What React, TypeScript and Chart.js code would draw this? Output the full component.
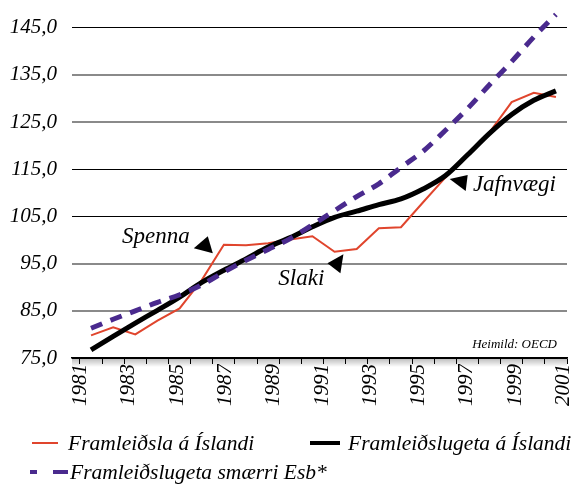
import React, { useEffect, useRef } from "react";
import { Chart, registerables } from "chart.js";

Chart.register(...registerables);

// ---------- data ----------
const years = [1981, 1982, 1983, 1984, 1985, 1986, 1987, 1988, 1989, 1990, 1991, 1992, 1993, 1994, 1995, 1996, 1997, 1998, 1999, 2000, 2001, 2002];
const productionIceland = [79.8, 81.5, 80.0, 82.9, 85.5, 91.5, 99.0, 98.9, 99.3, 100.1, 100.8, 97.5, 98.1, 102.5, 102.7, 108.0, 113.2, 118.0, 122.8, 129.2, 131.2, 130.3];
const capacityIceland = [76.7, 79.6, 82.4, 85.1, 87.9, 91.0, 93.6, 96.0, 98.5, 100.5, 102.8, 104.8, 106.1, 107.5, 108.7, 110.8, 113.6, 118.0, 122.6, 126.6, 129.6, 131.6];
const capacitySmallerEU = [81.3, 83.2, 85.0, 86.8, 88.4, 90.5, 93.2, 95.7, 98.0, 100.3, 103.2, 106.2, 109.2, 111.9, 115.4, 118.8, 123.2, 127.8, 132.9, 137.8, 143.0, 147.8];
const yTickValues = [75, 85, 95, 105, 115, 125, 135, 145];
const xLabelYears = [1981, 1983, 1985, 1987, 1989, 1991, 1993, 1995, 1997, 1999, 2001];
const seriesNames = ["Framleiðsla á Íslandi", "Framleiðslugeta á Íslandi", "Framleiðslugeta smærri Esb*"];
const sourceNote = "Heimild: OECD";

// annotation labels (data coordinates)
const annotationLabels = [
  { text: "Spenna", year: 1983.93, value: 100.6, align: "center" },
  { text: "Slaki", year: 1990.5, value: 91.8, align: "center" },
  { text: "Jafnvægi", year: 1998.25, value: 111.7, align: "left" },
];
const annotationArrows = [
  { year: 1986.5, value: 97.2, shape: [[0, 0], [-5, -17], [-19, -5]] },
  { year: 1992.4, value: 97.0, shape: [[0, 0], [-16, 9], [-3, 19]] },
  { year: 1997.2, value: 112.9, shape: [[0, 0], [18, -4], [16, 12]] },
];

const FONT = '"Liberation Serif", "Times New Roman", serif';
const COLORS = ["#e0452d", "#000000", "#4a2a8e"];

const grayGrid = [85, 95, 125, 135];

const decorPlugin = {
  id: "decor",
  beforeDraw(chart: any) {
    const { ctx, chartArea } = chart;
    const { left, right, bottom } = chartArea;
    const g = ctx.createLinearGradient(0, bottom, 0, bottom + 9);
    g.addColorStop(0, "rgba(0,0,0,0.28)");
    g.addColorStop(1, "rgba(0,0,0,0)");
    ctx.save();
    ctx.fillStyle = g;
    ctx.fillRect(left, bottom, right - left, 9);
    ctx.restore();
  },
  afterDatasetsDraw(chart: any) {
    const { ctx, chartArea } = chart;
    const xs = chart.scales.x;
    const ys = chart.scales.y;
    ctx.save();
    ctx.fillStyle = "#000";
    ctx.font = `italic 23px ${FONT}`;
    ctx.textBaseline = "middle";
    annotationLabels.forEach((a) => {
      ctx.textAlign = a.align;
      ctx.fillText(a.text, xs.getPixelForValue(a.year), ys.getPixelForValue(a.value));
    });
    annotationArrows.forEach((a) => {
      const px = xs.getPixelForValue(a.year);
      const py = ys.getPixelForValue(a.value);
      ctx.beginPath();
      a.shape.forEach(([dx, dy], i) => {
        if (i === 0) ctx.moveTo(px + dx, py + dy);
        else ctx.lineTo(px + dx, py + dy);
      });
      ctx.closePath();
      ctx.fill();
    });
    ctx.font = `italic 13px ${FONT}`;
    ctx.textAlign = "right";
    ctx.fillText(sourceNote, chartArea.right - 10, chartArea.bottom - 13);
    ctx.restore();
  },
};

const legendItems = [
  { lineX: 32, lineW: 26, textX: 68, y: 443, width: 2, dash: "" },
  { lineX: 310, lineW: 30, textX: 348, y: 443, width: 4, dash: "" },
  { lineX: 30, lineW: 38, textX: 70, y: 472, width: 4, dash: "7 16 15" },
];

const tickFont = { family: FONT, size: 21, style: "italic" };

export default function App() {
  const ref = useRef<HTMLCanvasElement | null>(null);

  useEffect(() => {
    if (!ref.current) return;
    const chart = new Chart(ref.current, {
      type: "line",
      data: {
        datasets: [
          {
            label: seriesNames[0],
            data: years.map((yr, i) => ({ x: yr, y: productionIceland[i] })),
            borderColor: COLORS[0],
            backgroundColor: COLORS[0],
            borderWidth: 2,
            pointRadius: 0,
            tension: 0,
            order: 2,
            clip: false,
          },
          {
            label: seriesNames[1],
            data: years.map((yr, i) => ({ x: yr, y: capacityIceland[i] })),
            borderColor: COLORS[1],
            backgroundColor: COLORS[1],
            borderWidth: 5,
            pointRadius: 0,
            cubicInterpolationMode: "monotone",
            borderJoinStyle: "round",
            order: 1,
            clip: false,
          },
          {
            label: seriesNames[2],
            data: years.map((yr, i) => ({ x: yr, y: capacitySmallerEU[i] })),
            borderColor: COLORS[2],
            backgroundColor: COLORS[2],
            borderWidth: 5,
            borderDash: [12, 9],
            borderCapStyle: "butt",
            pointRadius: 0,
            cubicInterpolationMode: "monotone",
            order: 0,
            clip: false,
          },
        ],
      },
      options: {
        responsive: false,
        animation: false,
        devicePixelRatio: 1,
        layout: { padding: { top: 24, right: 6, left: 0, bottom: 61 } },
        plugins: {
          legend: { display: false },
          tooltip: { enabled: false },
          title: { display: false },
        },
        scales: {
          x: {
            type: "linear",
            position: "bottom",
            weight: 0,
            min: 1980.14,
            max: 2002.5,
            afterBuildTicks: (axis: any) => {
              axis.ticks = [...years.map((y) => y - 0.5), years[years.length - 1] + 0.5].map((v) => ({ value: v }));
            },
            afterFit: (axis: any) => {
              axis.height = 6;
              axis.paddingLeft = 0;
              axis.paddingRight = 0;
            },
            ticks: { display: false },
            grid: {
              drawOnChartArea: false,
              drawTicks: true,
              tickLength: 6,
              color: "#000",
              lineWidth: 1,
            },
            border: { display: true, color: "#000", width: 1.5 },
          },
          x2: {
            type: "linear",
            position: "bottom",
            weight: 1,
            min: 1980.648,
            max: 2001.145,
            afterBuildTicks: (axis: any) => {
              axis.ticks = xLabelYears.map((v) => ({ value: v }));
            },
            afterFit: (axis: any) => {
              axis.height = 60;
              axis.paddingLeft = 0;
              axis.paddingRight = 0;
            },
            ticks: {
              autoSkip: false,
              minRotation: 90,
              maxRotation: 90,
              padding: 0,
              color: "#000",
              font: tickFont,
              callback: (v: any) => String(v),
            },
            grid: { display: false, drawTicks: false },
            border: { display: false },
          },
          y: {
            type: "linear",
            min: 75,
            max: 145,
            afterBuildTicks: (axis: any) => {
              axis.ticks = yTickValues.map((v) => ({ value: v }));
            },
            afterFit: (axis: any) => {
              axis.width = 72;
            },
            ticks: {
              padding: 15,
              color: "#000",
              font: tickFont,
              callback: (v: any) => Number(v).toFixed(1).replace(".", ","),
            },
            grid: {
              drawTicks: false,
              color: (ctx: any) => (grayGrid.includes(ctx.tick?.value) ? "#8a8a8a" : "#000"),
              lineWidth: (ctx: any) => (grayGrid.includes(ctx.tick?.value) ? 2 : 1),
            },
            border: { display: false },
          },
        },
      },
      plugins: [decorPlugin],
    } as any);
    return () => chart.destroy();
  }, []);

  return (
    <div
      style={{
        position: "fixed",
        left: 0,
        top: 0,
        width: 573,
        height: 485,
        background: "#fff",
        fontFamily: FONT,
        fontStyle: "italic",
        fontSize: 21.5,
        color: "#000",
      }}
    >
      <canvas ref={ref} width={573} height={485} style={{ display: "block", width: 573, height: 485 }} />
      {legendItems.map((it, i) => (
        <React.Fragment key={i}>
          <svg
            width={it.lineW}
            height={8}
            style={{ position: "absolute", left: it.lineX, top: it.y - 4, display: "block" }}
          >
            <line
              x1={0}
              y1={4}
              x2={it.lineW}
              y2={4}
              stroke={COLORS[i]}
              strokeWidth={it.width}
              strokeDasharray={it.dash || undefined}
            />
          </svg>
          <span
            style={{
              position: "absolute",
              left: it.textX,
              top: it.y - 13,
              lineHeight: "26px",
              whiteSpace: "nowrap",
            }}
          >
            {seriesNames[i]}
          </span>
        </React.Fragment>
      ))}
    </div>
  );
}
